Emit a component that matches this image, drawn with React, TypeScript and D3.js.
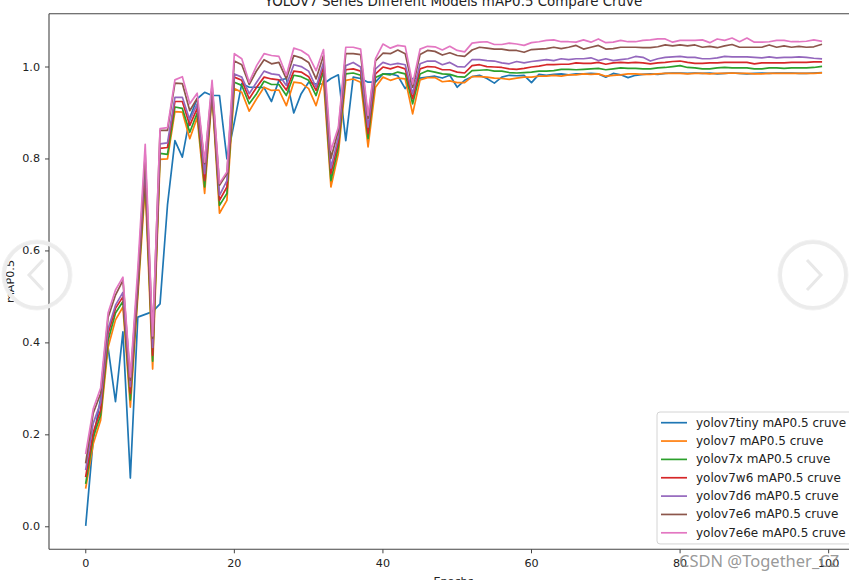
import React from "react";
import * as d3 from "d3";

const W = 849;
const H = 580;

const epochs: number[] = Array.from({ length: 100 }, (_, i) => i);

const yolov7tiny = [
  0.004, 0.19, 0.28, 0.39, 0.272, 0.424, 0.106, 0.456, 0.462, 0.468,
  0.485, 0.70, 0.84, 0.804, 0.89, 0.931, 0.945, 0.938, 0.938, 0.80,
  0.88, 0.964, 0.956, 0.956, 0.955, 0.925, 0.971, 0.975, 0.90, 0.942,
  0.967, 0.963, 0.963, 0.975, 0.983, 0.84, 0.978, 0.975, 0.967, 0.967,
  0.985, 0.985, 0.981, 0.953, 0.975, 0.976, 0.978, 0.98, 0.976, 0.982,
  0.956, 0.971, 0.979, 0.982, 0.975, 0.965, 0.978, 0.982, 0.981, 0.982,
  0.966, 0.984, 0.982, 0.984, 0.985, 0.983, 0.985, 0.985, 0.986, 0.985,
  0.978, 0.986, 0.983, 0.977, 0.982, 0.984, 0.985, 0.984, 0.986, 0.987,
  0.987, 0.986, 0.987, 0.986, 0.987, 0.985, 0.986, 0.987, 0.986, 0.985,
  0.986, 0.987, 0.986, 0.987, 0.987, 0.987, 0.986, 0.986, 0.987, 0.988,
];

const yolov7 = [
  0.085, 0.18, 0.232, 0.39, 0.45, 0.478, 0.26, 0.50, 0.74, 0.343,
  0.799, 0.80, 0.903, 0.902, 0.844, 0.89, 0.725, 0.94, 0.682, 0.71,
  0.953, 0.945, 0.904, 0.931, 0.956, 0.949, 0.95, 0.916, 0.967, 0.965,
  0.953, 0.916, 0.972, 0.739, 0.812, 0.971, 0.974, 0.967, 0.826, 0.956,
  0.978, 0.971, 0.976, 0.974, 0.898, 0.972, 0.977, 0.977, 0.968, 0.97,
  0.966, 0.966, 0.979, 0.979, 0.978, 0.976, 0.975, 0.973, 0.976, 0.978,
  0.978, 0.98, 0.98, 0.982, 0.98, 0.983, 0.983, 0.985, 0.984, 0.985,
  0.98, 0.982, 0.983, 0.985, 0.985, 0.984, 0.984, 0.985, 0.986, 0.986,
  0.986, 0.985, 0.986, 0.986, 0.985, 0.986, 0.986, 0.987, 0.986, 0.986,
  0.985, 0.985, 0.986, 0.986, 0.986, 0.986, 0.986, 0.986, 0.986, 0.987,
];

const yolov7x = [
  0.095, 0.195, 0.243, 0.405, 0.465, 0.49, 0.276, 0.51, 0.76, 0.36,
  0.812, 0.81, 0.913, 0.91, 0.858, 0.90, 0.739, 0.945, 0.699, 0.725,
  0.967, 0.96, 0.92, 0.942, 0.969, 0.962, 0.962, 0.938, 0.982, 0.979,
  0.971, 0.938, 0.99, 0.753, 0.826, 0.985, 0.987, 0.982, 0.844, 0.977,
  0.985, 0.983, 0.989, 0.985, 0.92, 0.985, 0.992, 0.989, 0.985, 0.984,
  0.979, 0.978, 0.992, 0.993, 0.994, 0.991, 0.991, 0.988, 0.987, 0.988,
  0.989, 0.991, 0.991, 0.992, 0.995, 0.995, 0.994, 0.995, 0.996, 0.997,
  0.994, 0.996, 0.998, 0.997, 0.997, 0.996, 0.996, 0.998, 0.999, 1.001,
  1.003, 0.999, 0.998, 0.996, 0.996, 0.998, 0.999, 0.998, 0.998, 0.998,
  0.996, 0.996, 0.998, 0.998, 0.997, 0.998, 0.998, 0.998, 0.999, 1.001,
];

const yolov7w6 = [
  0.11, 0.205, 0.254, 0.42, 0.475, 0.50, 0.29, 0.52, 0.775, 0.373,
  0.823, 0.825, 0.925, 0.925, 0.873, 0.91, 0.753, 0.95, 0.71, 0.739,
  0.978, 0.971, 0.931, 0.956, 0.978, 0.974, 0.972, 0.95, 0.991, 0.989,
  0.979, 0.949, 1.0, 0.768, 0.837, 0.994, 0.996, 0.991, 0.855, 0.985,
  1.0, 0.996, 1.001, 0.996, 0.931, 0.996, 1.001, 1.0, 0.994, 0.994,
  0.989, 0.987, 1.003, 1.005, 1.001, 1.0, 0.999, 0.996, 0.995, 0.997,
  1.0, 1.002, 1.005, 1.005, 1.006, 1.006, 1.009, 1.008, 1.008, 1.01,
  1.006, 1.009, 1.01, 1.009, 1.01, 1.009, 1.007, 1.009, 1.01, 1.012,
  1.013, 1.01, 1.008, 1.008, 1.009, 1.009, 1.01, 1.01, 1.01, 1.01,
  1.007, 1.009, 1.009, 1.009, 1.009, 1.01, 1.01, 1.01, 1.011, 1.011,
];

const yolov7d6 = [
  0.125, 0.225, 0.27, 0.43, 0.482, 0.51, 0.305, 0.53, 0.79, 0.39,
  0.833, 0.835, 0.934, 0.934, 0.884, 0.92, 0.768, 0.955, 0.721, 0.753,
  0.985, 0.978, 0.942, 0.967, 0.991, 0.985, 0.983, 0.96, 1.005, 1.001,
  0.991, 0.956, 1.01, 0.78, 0.848, 1.003, 1.01, 1.0, 0.869, 0.996,
  1.01, 1.005, 1.008, 1.005, 0.942, 1.007, 1.013, 1.013, 1.005, 1.01,
  1.001, 1.0, 1.016, 1.016, 1.014, 1.013, 1.009, 1.007, 1.012, 1.009,
  1.012, 1.014, 1.016, 1.014, 1.018, 1.016, 1.018, 1.018, 1.02, 1.014,
  1.018, 1.014, 1.016, 1.018, 1.023, 1.021, 1.013, 1.018, 1.021, 1.022,
  1.023, 1.021, 1.021, 1.018, 1.018, 1.02, 1.023, 1.022, 1.022, 1.022,
  1.021, 1.02, 1.022, 1.02, 1.021, 1.021, 1.022, 1.021, 1.019, 1.018,
];

const yolov7e6 = [
  0.14, 0.247, 0.29, 0.455, 0.504, 0.536, 0.319, 0.54, 0.81, 0.41,
  0.862, 0.862, 0.965, 0.964, 0.905, 0.932, 0.79, 0.96, 0.743, 0.768,
  1.013, 1.005, 0.962, 0.992, 1.016, 1.007, 1.01, 0.974, 1.025, 1.02,
  1.01, 0.974, 1.025, 0.801, 0.862, 1.029, 1.029, 1.027, 0.888, 1.013,
  1.03, 1.029, 1.037, 1.029, 0.956, 1.027, 1.036, 1.034, 1.026, 1.031,
  1.025, 1.023, 1.037, 1.043, 1.041, 1.039, 1.039, 1.036, 1.036, 1.032,
  1.038, 1.039, 1.04, 1.043, 1.04, 1.043, 1.047, 1.039, 1.043, 1.047,
  1.039, 1.04, 1.043, 1.043, 1.043, 1.042, 1.042, 1.044, 1.048, 1.046,
  1.048, 1.046, 1.048, 1.043, 1.045, 1.042, 1.046, 1.049, 1.043, 1.043,
  1.043, 1.043, 1.048, 1.043, 1.046, 1.043, 1.045, 1.043, 1.044, 1.049,
];

const yolov7e6e = [
  0.16, 0.256, 0.302, 0.465, 0.515, 0.543, 0.326, 0.56, 0.832, 0.415,
  0.866, 0.868, 0.972, 0.979, 0.92, 0.943, 0.793, 0.971, 0.747, 0.772,
  1.029, 1.018, 0.967, 1.003, 1.029, 1.025, 1.023, 0.982, 1.041, 1.036,
  1.025, 0.992, 1.038, 0.819, 0.869, 1.043, 1.043, 1.039, 0.895, 1.018,
  1.05, 1.041, 1.047, 1.045, 0.963, 1.039, 1.045, 1.044, 1.037, 1.045,
  1.036, 1.033, 1.052, 1.054, 1.055, 1.049, 1.049, 1.052, 1.05, 1.047,
  1.053, 1.055, 1.058, 1.059, 1.055, 1.055, 1.054, 1.059, 1.054, 1.061,
  1.053, 1.054, 1.058, 1.055, 1.055, 1.058, 1.059, 1.061, 1.061, 1.054,
  1.058, 1.058, 1.058, 1.059, 1.053, 1.061, 1.058, 1.063, 1.055, 1.063,
  1.054, 1.054, 1.055, 1.058, 1.058, 1.055, 1.055, 1.056, 1.059, 1.056,
];

const seriesNames = [
  "yolov7tiny mAP0.5 cruve",
  "yolov7 mAP0.5 cruve",
  "yolov7x mAP0.5 cruve",
  "yolov7w6 mAP0.5 cruve",
  "yolov7d6 mAP0.5 cruve",
  "yolov7e6 mAP0.5 cruve",
  "yolov7e6e mAP0.5 cruve",
];
const seriesValues = [yolov7tiny, yolov7, yolov7x, yolov7w6, yolov7d6, yolov7e6, yolov7e6e];
const seriesColors = ["#1f77b4", "#ff7f0e", "#2ca02c", "#d62728", "#9467bd", "#8c564b", "#e377c2"];

const xTicks = [0, 20, 40, 60, 80, 100];
const yTicks = [0.0, 0.2, 0.4, 0.6, 0.8, 1.0];

const titleText = "YOLOV7 Series Different Models mAP0.5 Compare Cruve";
const xLabel = "Epochs";
const yLabel = "mAP0.5";
const watermark = "CSDN @Together_CZ";

const FONT = "DejaVu Sans, sans-serif";

export default function App() {
  const left = 49, right = 858, top = 13.7, bottom = 549.3;
  const allVals = seriesValues.flat();
  const [ymin0, ymax0] = d3.extent(allVals) as [number, number];
  const ym = (ymax0 - ymin0) * 0.05;
  const [xmin0, xmax0] = d3.extent(epochs) as [number, number];
  const xm = (xmax0 - xmin0) * 0.05;

  const x = d3.scaleLinear().domain([xmin0 - xm, xmax0 + xm]).range([left, right]);
  const y = d3.scaleLinear().domain([ymin0 - ym, ymax0 + ym]).range([bottom, top]);

  const line = d3
    .line<number>()
    .x((_, i) => x(epochs[i]))
    .y((d) => y(d));

  const legX = 657, legY = 412, legW = 196, legRow = 18.35;
  const tickFont = 11.2;
  const legFont = 12;

  const chevron = (cx: number, cy: number, dir: number) =>
    `M${cx + dir * 6},${cy - 15} L${cx - dir * 8},${cy} L${cx + dir * 6},${cy + 15}`;

  return (
    <div style={{ position: "fixed", left: 0, top: 0 }}>
      <svg width={W} height={H} style={{ display: "block", background: "#fff" }}>
        <rect x={0} y={0} width={W} height={H} fill="#fff" />
        <defs>
          <clipPath id="plotclip">
            <rect x={left} y={top} width={right - left} height={bottom - top} />
          </clipPath>
        </defs>

        {/* lines */}
        <g clipPath="url(#plotclip)">
          {seriesValues.map((vals, k) => (
            <path
              key={k}
              d={line(vals) || ""}
              fill="none"
              stroke={seriesColors[k]}
              strokeWidth={1.7}
              strokeLinejoin="round"
              strokeLinecap="square"
            />
          ))}
        </g>

        {/* spines */}
        <g stroke="#444" strokeWidth={1.1} fill="none">
          <line x1={left} y1={top} x2={left} y2={bottom} />
          <line x1={left} y1={bottom} x2={right} y2={bottom} />
          <line x1={left} y1={top} x2={right} y2={top} />
          <line x1={right} y1={top} x2={right} y2={bottom} />
        </g>

        {/* x ticks */}
        <g fontFamily={FONT} fontSize={tickFont} fill="#222">
          {xTicks.map((t) => (
            <g key={t}>
              <line x1={x(t)} x2={x(t)} y1={bottom} y2={bottom + 4} stroke="#444" strokeWidth={1} />
              <text x={x(t)} y={bottom + 17.5} textAnchor="middle">
                {t}
              </text>
            </g>
          ))}
        </g>

        {/* y ticks */}
        <g fontFamily={FONT} fontSize={tickFont} fill="#222">
          {yTicks.map((t) => (
            <g key={t}>
              <line x1={left - 4} x2={left} y1={y(t)} y2={y(t)} stroke="#444" strokeWidth={1} />
              <text x={left - 9} y={y(t)} textAnchor="end" dominantBaseline="central">
                {t.toFixed(1)}
              </text>
            </g>
          ))}
        </g>

        {/* title */}
        <text x={(left + right) / 2} y={6} textAnchor="middle" fontFamily={FONT} fontSize={13.4} fill="#222">
          {titleText}
        </text>

        {/* axis labels */}
        <text x={(left + right) / 2} y={585} textAnchor="middle" fontFamily={FONT} fontSize={tickFont} fill="#222">
          {xLabel}
        </text>
        <text
          transform={`translate(${10.5},${(top + bottom) / 2}) rotate(-90)`}
          textAnchor="middle"
          dominantBaseline="central"
          fontFamily={FONT}
          fontSize={tickFont}
          fill="#222"
        >
          {yLabel}
        </text>

        {/* legend */}
        <g>
          <rect
            x={legX}
            y={legY}
            width={legW}
            height={legRow * 7 + 3.5}
            rx={3}
            fill="#fff"
            fillOpacity={0.85}
            stroke="#d4d4d4"
            strokeWidth={1}
          />
          {seriesNames.map((name, k) => {
            const cy = legY + 10.7 + k * legRow;
            return (
              <g key={name}>
                <line x1={legX + 4} x2={legX + 30} y1={cy} y2={cy} stroke={seriesColors[k]} strokeWidth={1.7} />
                <text
                  x={legX + 39}
                  y={cy}
                  dominantBaseline="central"
                  fontFamily={FONT}
                  fontSize={legFont}
                  fill="#222"
                >
                  {name}
                </text>
              </g>
            );
          })}
        </g>

        {/* carousel overlay rings */}
        <g fill="none">
          <circle cx={37} cy={275} r={33} stroke="#ececec" strokeWidth={4} />
          <circle cx={37} cy={275} r={35} stroke="#f2f2f2" strokeWidth={1} />
          <path d={chevron(37, 275, 1)} stroke="#e8e8e8" strokeWidth={3} />
          <circle cx={813} cy={275} r={33} stroke="#ececec" strokeWidth={4} />
          <circle cx={813} cy={275} r={35} stroke="#f2f2f2" strokeWidth={1} />
          <path d={chevron(813, 275, -1)} stroke="#e8e8e8" strokeWidth={3} />
        </g>

        {/* watermark */}
        <text x={679} y={567} fontFamily="Noto Sans, sans-serif" fontSize={16.5} fill="#8c8c8c" fillOpacity={0.9}>
          {watermark}
        </text>
      </svg>
    </div>
  );
}
